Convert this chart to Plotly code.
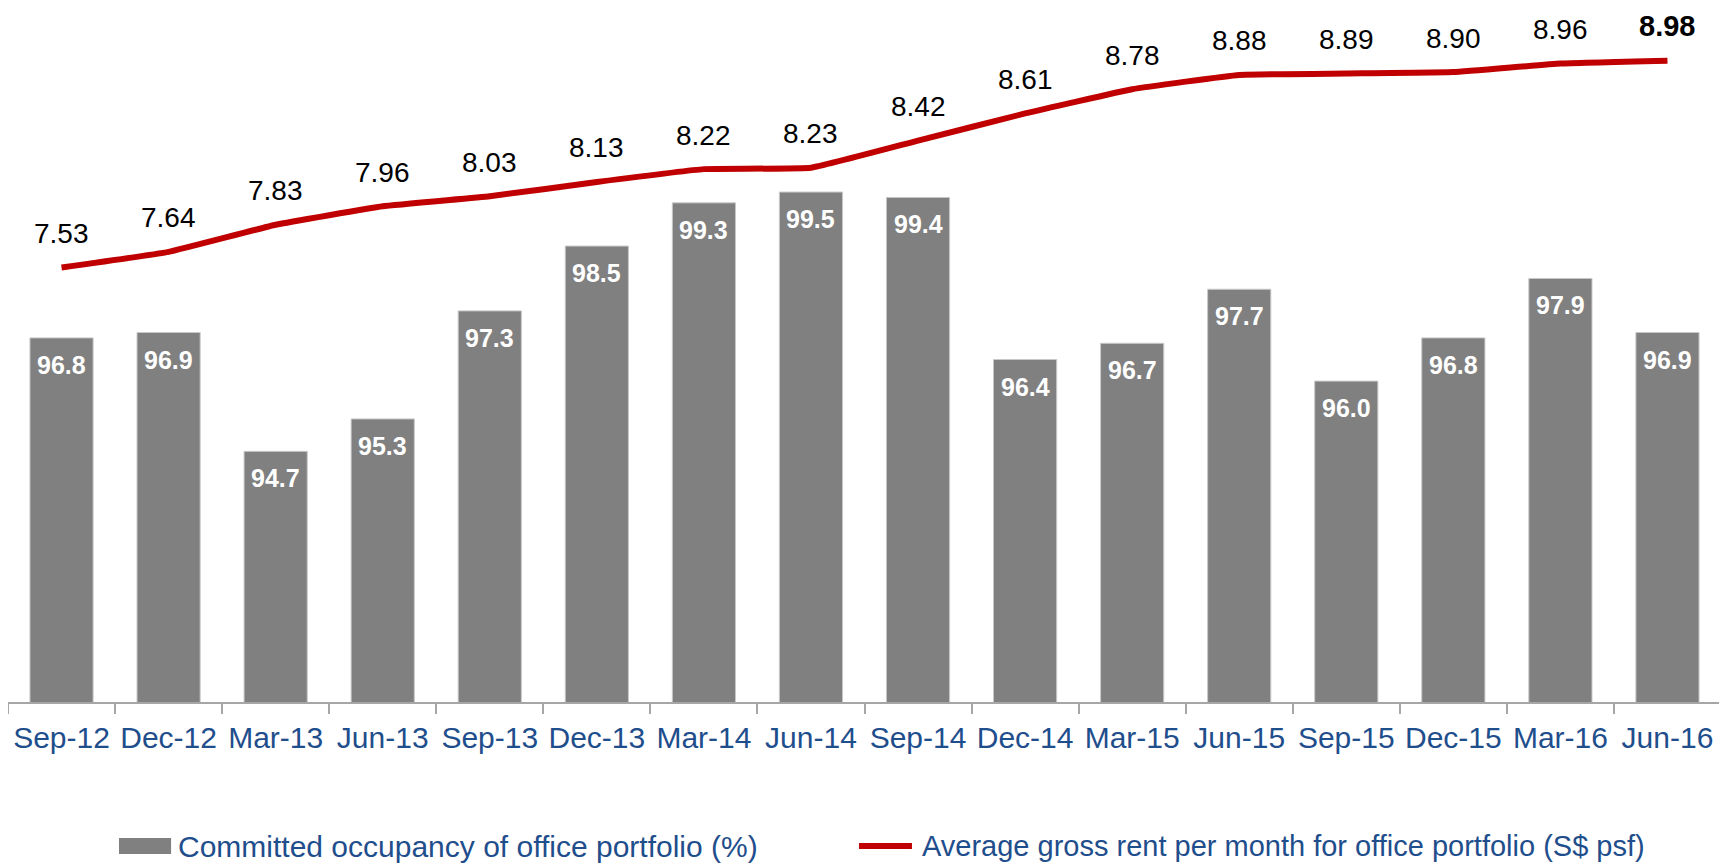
import plotly.graph_objects as go

categories = ["Sep-12", "Dec-12", "Mar-13", "Jun-13", "Sep-13", "Dec-13", "Mar-14", "Jun-14",
              "Sep-14", "Dec-14", "Mar-15", "Jun-15", "Sep-15", "Dec-15", "Mar-16", "Jun-16"]
occupancy = [96.8, 96.9, 94.7, 95.3, 97.3, 98.5, 99.3, 99.5, 99.4, 96.4, 96.7, 97.7, 96.0, 96.8, 97.9, 96.9]
rent = [7.53, 7.64, 7.83, 7.96, 8.03, 8.13, 8.22, 8.23, 8.42, 8.61, 8.78, 8.88, 8.89, 8.90, 8.96, 8.98]

bar_name = "Committed occupancy of office portfolio (%)"
line_name = "Average gross rent per month for office portfolio (S$ psf)"

FONT = "Liberation Sans"
BLUE = "#1F4E8C"
GRAY = "#808080"
RED = "#C00000"

fig = go.Figure()
fig.add_trace(go.Bar(
    x=categories, y=occupancy, name=bar_name,
    marker=dict(color=GRAY, line=dict(color="#C8C8C8", width=1)),
    showlegend=False,
))
fig.add_trace(go.Scatter(
    x=categories, y=rent, name=line_name, yaxis="y2", mode="lines",
    line=dict(color=RED, width=6, shape="spline", smoothing=0.3),
    showlegend=False,
))

annotations = []
for c, v in zip(categories, occupancy):
    annotations.append(dict(
        x=c, y=v, xref="x", yref="y", text=f"<b>{v:.1f}</b>", showarrow=False,
        yanchor="middle", yshift=-27, font=dict(family=FONT, size=25, color="white"),
    ))
for i, (c, v) in enumerate(zip(categories, rent)):
    last = i == len(rent) - 1
    annotations.append(dict(
        x=c, y=v, xref="x", yref="y2",
        text=(f"<b>{v:.2f}</b>" if last else f"{v:.2f}"), showarrow=False,
        yanchor="middle", yshift=(35 if last else 34),
        font=dict(family=FONT, size=(29 if last else 28), color="black"),
    ))

# custom legend (paper coordinates)
LEG_Y = -0.2081
annotations.append(dict(x=0.0981, y=LEG_Y, xref="paper", yref="paper", xanchor="left", yanchor="middle",
                        text=bar_name, showarrow=False, font=dict(family=FONT, size=30, color=BLUE)))
annotations.append(dict(x=0.5324, y=LEG_Y, xref="paper", yref="paper", xanchor="left", yanchor="middle",
                        text=line_name, showarrow=False, font=dict(family=FONT, size=29, color=BLUE)))
shapes = [
    dict(type="rect", xref="paper", yref="paper", x0=0.0648, x1=0.0952, y0=-0.1965, y1=-0.2197,
         fillcolor=GRAY, line=dict(width=0)),
    dict(type="line", xref="paper", yref="paper", x0=0.4968, x1=0.5277, y0=LEG_Y, y1=LEG_Y,
         line=dict(color=RED, width=6)),
]

# page body has an 8px margin, so the figure is sized to fit exactly
fig.update_layout(
    width=1719, height=857,
    margin=dict(l=0, r=6, t=2, b=163, autoexpand=False),
    paper_bgcolor="white", plot_bgcolor="white",
    bargap=0.41,
    showlegend=False,
    xaxis=dict(
        type="category", showline=True, linecolor="#A6A6A6", linewidth=2,
        ticks="outside", tickson="boundaries", ticklen=10, tickcolor="#A6A6A6", tickwidth=2,
        tickfont=dict(family=FONT, size=30, color=BLUE), showgrid=False,
        range=[-0.5, 15.5], automargin=False, ticklabelstandoff=8,
    ),
    yaxis=dict(range=[90.06, 102.87], visible=False, showgrid=False),
    yaxis2=dict(range=[4.486, 9.335], overlaying="y", side="right", visible=False, showgrid=False),
    annotations=annotations,
    shapes=shapes,
)

fig.write_html("out.html")
